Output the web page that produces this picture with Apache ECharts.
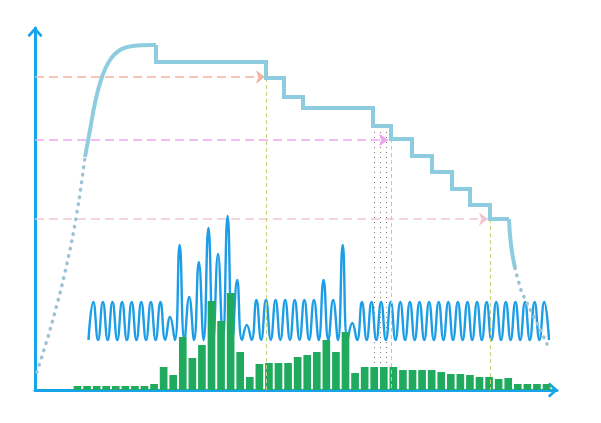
<!DOCTYPE html>
<html><head><meta charset="utf-8">
<script src="https://cdn.jsdelivr.net/npm/echarts/dist/echarts.min.js"></script>
<style>html,body{margin:0;padding:0;background:#fff}#c{width:601px;height:423px}</style>
</head><body><div id="c"></div>
<script>
// ---- data (x = time units, y = level units) ----
const curveRiseDotted = [[2,18],[15,60],[27,105],[37,150],[44,190],[50,233]];
const curveRise = [[50,233],[55,260],[60,287],[67,313],[75,330],[85,340],[98,344],[118,345],[121,345]];
const curveSteps = [[121,345],[121,328],[231,328],[231,312],[249,312],[249,293],[268,293],[268,282],[338,282],[338,264],[356,264],[356,251],[377,251],[377,234],[397,234],[397,218],[417,218],[417,201],[435,201],[435,185],[455,185],[455,171],[474,171]];
const curveFall = [[474,171],[475,155],[477,138],[480,122]];
const curveFallDotted = [[480,122],[486,100],[493,85],[503,65],[512,46]];

const arrowLevels = [313, 250, 171];
const arrowEnds = [230, 353, 453];
const arrowColors = ['#f6b3a2', '#f0a6ee', '#f1c6d2'];

const guideX = [231, 356, 455];
const guideTop = [312, 251, 171];

const shadedX = [338, 356];
const shadedY = [263, 0];

const barValues = [4,4,4,4,4,4,4,4,6,23,15,53,32,45,89,69,97,38,13,26,27,27,27,33,35,38,50,38,58,17,23,23,23,23,20,20,20,20,18,16,16,15,13,13,11,12,6,6,6,6];
const barCats = barValues.map((v, i) => 'b' + (i + 1));

const wavePeaks = [88,88,88,88,88,88,88,88,73,145,93,128,162,136,174,110,65,90,90,90,90,90,90,90,110,90,145,67,88,88,88,88,88,88,88,88,88,88,88,88,88,88,88,88,88,88,88,88];
const waveTrough = 50;
const waveValues = [waveTrough];
wavePeaks.forEach(p => { waveValues.push(p); waveValues.push(waveTrough); });
const waveCats = waveValues.map((v, i) => 's' + i);

// ---- chart ----
const axisColor = '#18a4e8';
const curveColor = '#8ecce0';
const dotColor = '#9cc2d4';
const chevron = 'path://M0,9 L8,0 L16,9 L14,11 L8,4.5 L2,11 Z';

const pc = document.createElement('canvas');
pc.width = 6; pc.height = 5;
const pg = pc.getContext('2d');
pg.fillStyle = '#7a7a7a';
pg.fillRect(2, 2, 1, 1);

const chart = echarts.init(document.getElementById('c'));
const axisLineStyle = {
  show: true, symbol: ['none', chevron], symbolSize: [15, 11], symbolOffset: [0, -4],
  lineStyle: { color: axisColor, width: 3 }
};
const hiddenBits = { axisTick: { show: false }, axisLabel: { show: false }, splitLine: { show: false } };

const arrowLines = arrowLevels.map((y, i) => [
  { coord: [0, y], symbol: 'none', lineStyle: { color: arrowColors[i], type: [9, 5], width: 1.6 } },
  { coord: [arrowEnds[i], y], symbol: 'arrow', symbolSize: [10, 9] }
]);
const guideLines = guideX.map((x, i) => [
  { coord: [x, guideTop[i]], symbol: 'none', lineStyle: { color: '#c4d27a', type: [4, 3], width: 1 } },
  { coord: [x, 0], symbol: 'none' }
]);

chart.setOption({
  animation: false,
  grid: [
    { left: 35, right: 44, top: 28, bottom: 33 },
    { left: 72.7, right: 49.7, top: 28, bottom: 33 },
    { left: 88.5, right: 52, top: 28, bottom: 33 }
  ],
  xAxis: [
    Object.assign({ type: 'value', gridIndex: 0, min: 0, max: 522, axisLine: axisLineStyle }, hiddenBits),
    { type: 'category', gridIndex: 1, data: barCats, show: false },
    { type: 'category', gridIndex: 2, data: waveCats, boundaryGap: false, show: false }
  ],
  yAxis: [
    Object.assign({ type: 'value', gridIndex: 0, min: 0, max: 362, axisLine: axisLineStyle }, hiddenBits),
    { type: 'value', gridIndex: 1, min: 0, max: 362, show: false },
    { type: 'value', gridIndex: 2, min: 0, max: 362, show: false }
  ],
  series: [
    {
      type: 'line', xAxisIndex: 2, yAxisIndex: 2, data: waveValues, smooth: 0.5,
      symbol: 'none', lineStyle: { color: '#1c9de6', width: 2.4 }, z: 3
    },
    {
      type: 'bar', xAxisIndex: 1, yAxisIndex: 1, data: barValues, barWidth: '80%',
      itemStyle: { color: '#1faa5d' }, z: 4
    },
    {
      type: 'line', data: curveSteps, symbol: 'none', z: 5,
      lineStyle: { color: curveColor, width: 4, join: 'miter' },
      markLine: { silent: true, label: { show: false }, data: arrowLines.concat(guideLines) },
      markArea: {
        silent: true,
        itemStyle: { color: { image: pc, repeat: 'repeat' } },
        data: [[{ coord: [shadedX[0], shadedY[0]] }, { coord: [shadedX[1], shadedY[1]] }]]
      }
    },
    {
      type: 'line', data: curveRise, symbol: 'none', smooth: 0.4, z: 5,
      lineStyle: { color: curveColor, width: 4 }
    },
    {
      type: 'line', data: curveFall, symbol: 'none', smooth: 0.4, z: 5,
      lineStyle: { color: curveColor, width: 4 }
    },
    {
      type: 'line', data: curveRiseDotted, symbol: 'none', smooth: 0.3, z: 5,
      lineStyle: { color: dotColor, width: 3.5, type: [0.5, 7], cap: 'round' }
    },
    {
      type: 'line', data: curveFallDotted, symbol: 'none', smooth: 0.3, z: 5,
      lineStyle: { color: dotColor, width: 3.5, type: [0.5, 7], cap: 'round' }
    }
  ]
});
</script></body></html>
